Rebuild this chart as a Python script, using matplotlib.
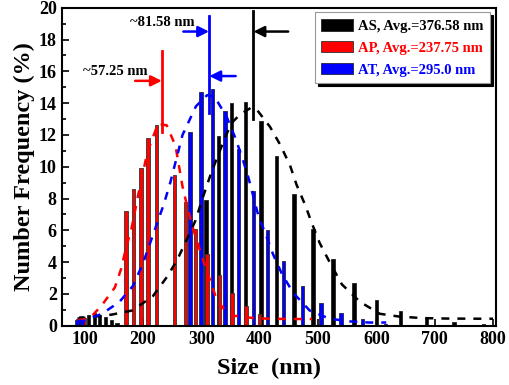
import matplotlib
matplotlib.use('Agg')
import matplotlib.pyplot as plt
from matplotlib.ticker import MultipleLocator

plt.rcParams['font.family'] = ['Liberation Serif', 'DejaVu Serif']
plt.rcParams['font.weight'] = 'bold'

# ---- data: histogram bars ----
as_x = [107, 117, 126, 136, 146, 156, 307.8, 329.4, 352.3, 376, 402.4, 429.3, 458.9,
        491.9, 526.2, 561.6, 600.4, 641.5, 686, 733, 784]
as_y = [0.67, 0.78, 0.7, 0.55, 0.35, 0.15, 7.9, 11.9, 14.0, 14.1, 12.85, 10.7, 8.3,
        6.1, 4.2, 2.7, 1.64, 0.9, 0.52, 0.23, 0.12]

ap_x = [89, 94, 100, 171.5, 184, 196.6, 209, 223.5, 254, 273, 290, 310, 331, 353, 376.7, 400]
ap_y = [0.4, 0.6, 0.5, 7.2, 8.6, 9.9, 11.8, 12.6, 9.5, 7.8, 6.1, 4.5, 3.2, 2.05, 1.25, 0.75]

at_x = [87, 92, 97, 280.8, 299.6, 319.7, 340.8, 363.6, 389.2, 413.9, 440.6, 473.8,
        505.6, 539.9, 576.4, 616]
at_y = [0.35, 0.4, 0.35, 12.2, 14.7, 14.9, 13.5, 11.1, 8.5, 6.0, 4.05, 2.5,
        1.43, 0.8, 0.42, 0.1]

# ---- data: fitted curves ----
as_fit_x = [88, 100, 147, 182, 217, 242, 259, 275, 290, 304, 317, 341, 352, 367, 385, 395,
            418, 435, 452, 463, 478, 490, 503, 520, 541, 572, 606, 638, 678, 720, 774, 800]
as_fit_y = [0.45, 0.5, 0.7, 0.96, 1.85, 3.1, 4.15, 5.4, 6.6, 8.2, 9.6, 11.85, 12.75, 13.3,
            13.7, 13.6, 12.5, 11.4, 10.1, 8.9, 7.6, 6.4, 5.2, 4.0, 2.6, 1.5, 0.75, 0.58,
            0.48, 0.45, 0.44, 0.44]

at_fit_x = [88, 98, 130, 160, 183, 200, 212, 224, 236, 247, 268, 291, 310, 323, 344, 358,
            370, 381, 398, 411, 423, 439, 458, 486, 520, 555, 587, 617]
at_fit_y = [0.3, 0.3, 0.75, 1.5, 2.5, 3.9, 5.15, 6.4, 7.65, 9.0, 12.0, 13.8, 14.5, 14.4,
            13.1, 11.85, 10.6, 9.3, 6.9, 5.7, 4.5, 3.2, 2.05, 0.95, 0.44, 0.27, 0.2, 0.2]

ap_fit_x = [88, 99, 115, 130, 152, 163, 171.5, 180.5, 193, 208, 226, 241, 256, 268, 277,
            287, 299, 310, 327, 340, 355, 392, 428, 470, 490]
ap_fit_y = [0.35, 0.4, 0.7, 1.3, 2.4, 3.6, 4.95, 6.1, 8.4, 10.95, 12.7, 12.6, 11.3, 8.75,
            7.35, 6.0, 4.6, 3.4, 1.6, 1.0, 0.63, 0.47, 0.43, 0.42, 0.42]

labels = ['AS, Avg.=376.58 nm', 'AP, Avg.=237.75 nm', 'AT, Avg.=295.0 nm']
colors = ['black', 'red', 'blue']

# markers of peak positions
peak_x = [389.0, 232.5, 313.4]
peak_lo = [13.0, 12.2, 13.4]
peak_hi = [19.77, 17.25, 19.45]

fig = plt.figure(figsize=(5.1, 3.85), dpi=100)
ax = fig.add_axes([0.121, 0.154, 0.8515, 0.826])

bw = 6
b1 = ax.bar(as_x, as_y, width=bw, color='black', edgecolor='#222222', linewidth=0.6, label=labels[0], zorder=2)
b2 = ax.bar(ap_x, ap_y, width=bw, color='red', edgecolor='#333333', linewidth=0.6, label=labels[1], zorder=2)
b3 = ax.bar(at_x, at_y, width=bw, color='blue', edgecolor='#222244', linewidth=0.6, label=labels[2], zorder=2)

ls = (0, (3.2, 3.2))
ax.plot(as_fit_x, as_fit_y, color='black', lw=1.8, linestyle=ls, zorder=3)
ax.plot(ap_fit_x, ap_fit_y, color='red', lw=1.8, linestyle=ls, zorder=3)
ax.plot(at_fit_x, at_fit_y, color='blue', lw=1.8, linestyle=ls, zorder=3)

for px, lo, hi, c in zip(peak_x, peak_lo, peak_hi, colors):
    ax.plot([px, px], [lo, hi], color=c, lw=2, zorder=4)

def arrow(x0, x1, y, c):
    ax.annotate('', xy=(x1, y), xytext=(x0, y),
                arrowprops=dict(arrowstyle='-|>', color=c, lw=1.8, mutation_scale=16,
                                shrinkA=0, shrinkB=0), zorder=5)

arrow(186.8, 232.5, 15.4, 'red')
arrow(359.0, 314.0, 15.7, 'blue')
arrow(269.4, 313.4, 18.5, 'blue')
arrow(449.0, 389.6, 18.5, 'black')

ax.text(98, 16.0, '~57.25 nm', fontsize=10.5, fontweight='bold', ha='left', va='center')
ax.text(178, 19.1, '~81.58 nm', fontsize=10.5, fontweight='bold', ha='left', va='center')

ax.set_xlim(61, 805)
ax.set_ylim(0, 20)
ax.xaxis.set_major_locator(MultipleLocator(100))
ax.yaxis.set_major_locator(MultipleLocator(2))
ax.yaxis.set_minor_locator(MultipleLocator(1))
ax.tick_params(axis='both', which='both', direction='in', labelsize=13, width=1.2)
ax.tick_params(axis='both', which='major', length=5)
ax.tick_params(axis='y', which='minor', length=3)
for lab in ax.get_xticklabels() + ax.get_yticklabels():
    lab.set_fontweight('bold')
for s in ax.spines.values():
    s.set_linewidth(1.5)

ax.set_xlabel('Size  (nm)', fontsize=17.5, fontweight='bold')
ax.xaxis.set_label_coords(0.477, -0.1)
ax.set_ylabel('Number Frequency (%)', fontsize=17.5, fontweight='bold', labelpad=3)

leg = ax.legend(handles=[b1, b2, b3], loc='upper right', bbox_to_anchor=(0.986, 0.9855),
                borderaxespad=0, fancybox=False, shadow={'color': 'black', 'alpha': 1},
                framealpha=1, edgecolor='#999999', fontsize=10.5, handlelength=2.2,
                handleheight=0.85, labelspacing=0.55, handletextpad=0.3, borderpad=0.45)
leg.get_frame().set_linewidth(0.8)
for t, c in zip(leg.get_texts(), colors):
    t.set_color(c)
    t.set_fontweight('bold')

fig.savefig('out.png', dpi=100)
